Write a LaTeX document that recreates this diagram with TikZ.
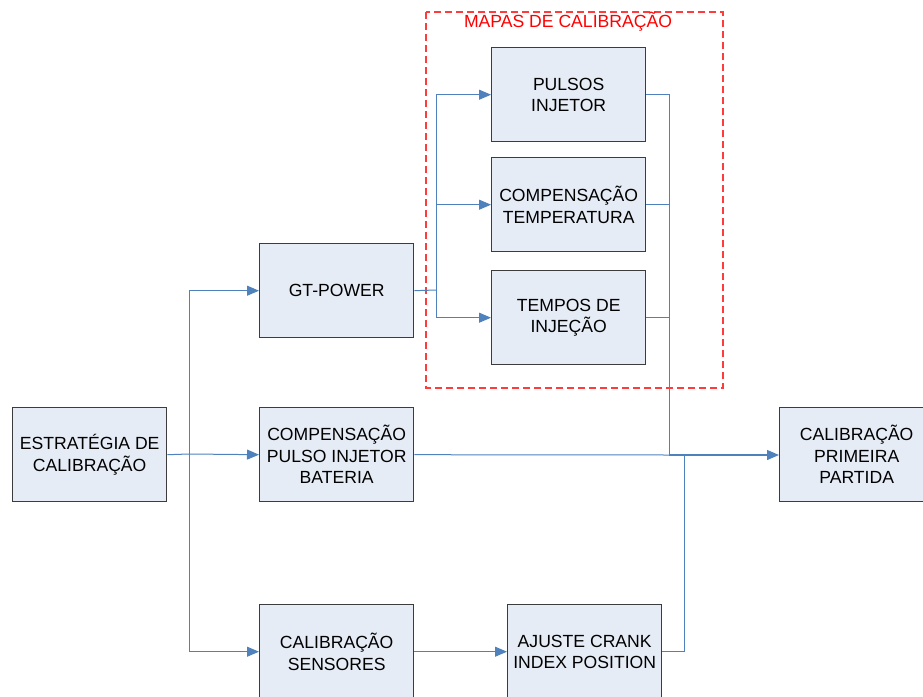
\documentclass[tikz,border=0pt]{standalone}
\usepackage{fontspec}
\setmainfont{Liberation Sans}
\usetikzlibrary{arrows.meta}
\definecolor{boxfill}{HTML}{E6ECF6}
\definecolor{boxline}{HTML}{3C3C3C}
\definecolor{conn}{HTML}{4F81BD}
\definecolor{dashred}{HTML}{FF3B3B}
\begin{document}
\begin{tikzpicture}[x=1pt,y=-1pt,
  blk/.style={draw=boxline,line width=1.4pt,fill=boxfill,minimum width=154pt,minimum height=94pt,
    inner sep=0pt,align=center,font=\fontsize{17.6}{21.5}\selectfont,anchor=north west},
  wire/.style={draw=conn,line width=1pt},
  arr/.style={wire,-{Triangle[length=12pt,width=10pt]}}]
\useasboundingbox (0,0) rectangle (923,696);
\clip (0,0) rectangle (923,696);
% dashed group
\draw[dashred,line width=1.1pt,dash pattern=on 7pt off 4pt] (426,12) rectangle (723,388);
\node[text=red,font=\fontsize{17.6}{21}\selectfont] (maplbl) at (568,22) {MAPAS DE CALIBRAÇÃO};
% boxes
\node[blk] (est) at (12,407) {ESTRATÉGIA DE\\CALIBRAÇÃO};
\node[blk] (gt) at (259,243) {GT-POWER};
\node[blk] (comp) at (259,407) {COMPENSAÇÃO\\PULSO INJETOR\\BATERIA};
\node[blk] (sens) at (259,604) {CALIBRAÇÃO\\SENSORES};
\node[blk] (puls) at (491,47) {PULSOS\\INJETOR};
\node[blk] (temp) at (491,157) {COMPENSAÇÃO\\TEMPERATURA};
\node[blk] (tinj) at (491,270) {TEMPOS DE\\INJEÇÃO};
\node[blk] (prim) at (779,407) {CALIBRAÇÃO\\PRIMEIRA\\PARTIDA};
\node[blk] (crank) at (507,604) {AJUSTE CRANK\\INDEX POSITION};
% junction coordinates
\coordinate (j1) at (189,454);
\coordinate (j2) at (436,290);
\coordinate (j3) at (669,455);
\coordinate (j4) at (684,455);
% connectors
\draw[wire] (est.east) -- (j1);
\draw[arr] (j1) |- (gt.west);
\draw[arr] (j1) -- (comp.west);
\draw[arr] (j1) |- (sens.west);
\draw[wire] (gt.east) -- (j2);
\draw[arr] (j2) |- (puls.west);
\draw[arr] (j2) |- (temp.west);
\draw[arr] (j2) |- (tinj.west);
\draw[wire] (puls.east) -| (j3);
\draw[wire] (temp.east) -| (j3);
\draw[wire] (tinj.east) -| (j3);
\draw[wire] (comp.east) -- (j3);
\draw[wire] (crank.east) -| (j4);
\draw[arr,line width=1.3pt] (j3) -- (prim.west |- j3);
\draw[arr] (sens.east) -- (crank.west);
\end{tikzpicture}
\end{document}
